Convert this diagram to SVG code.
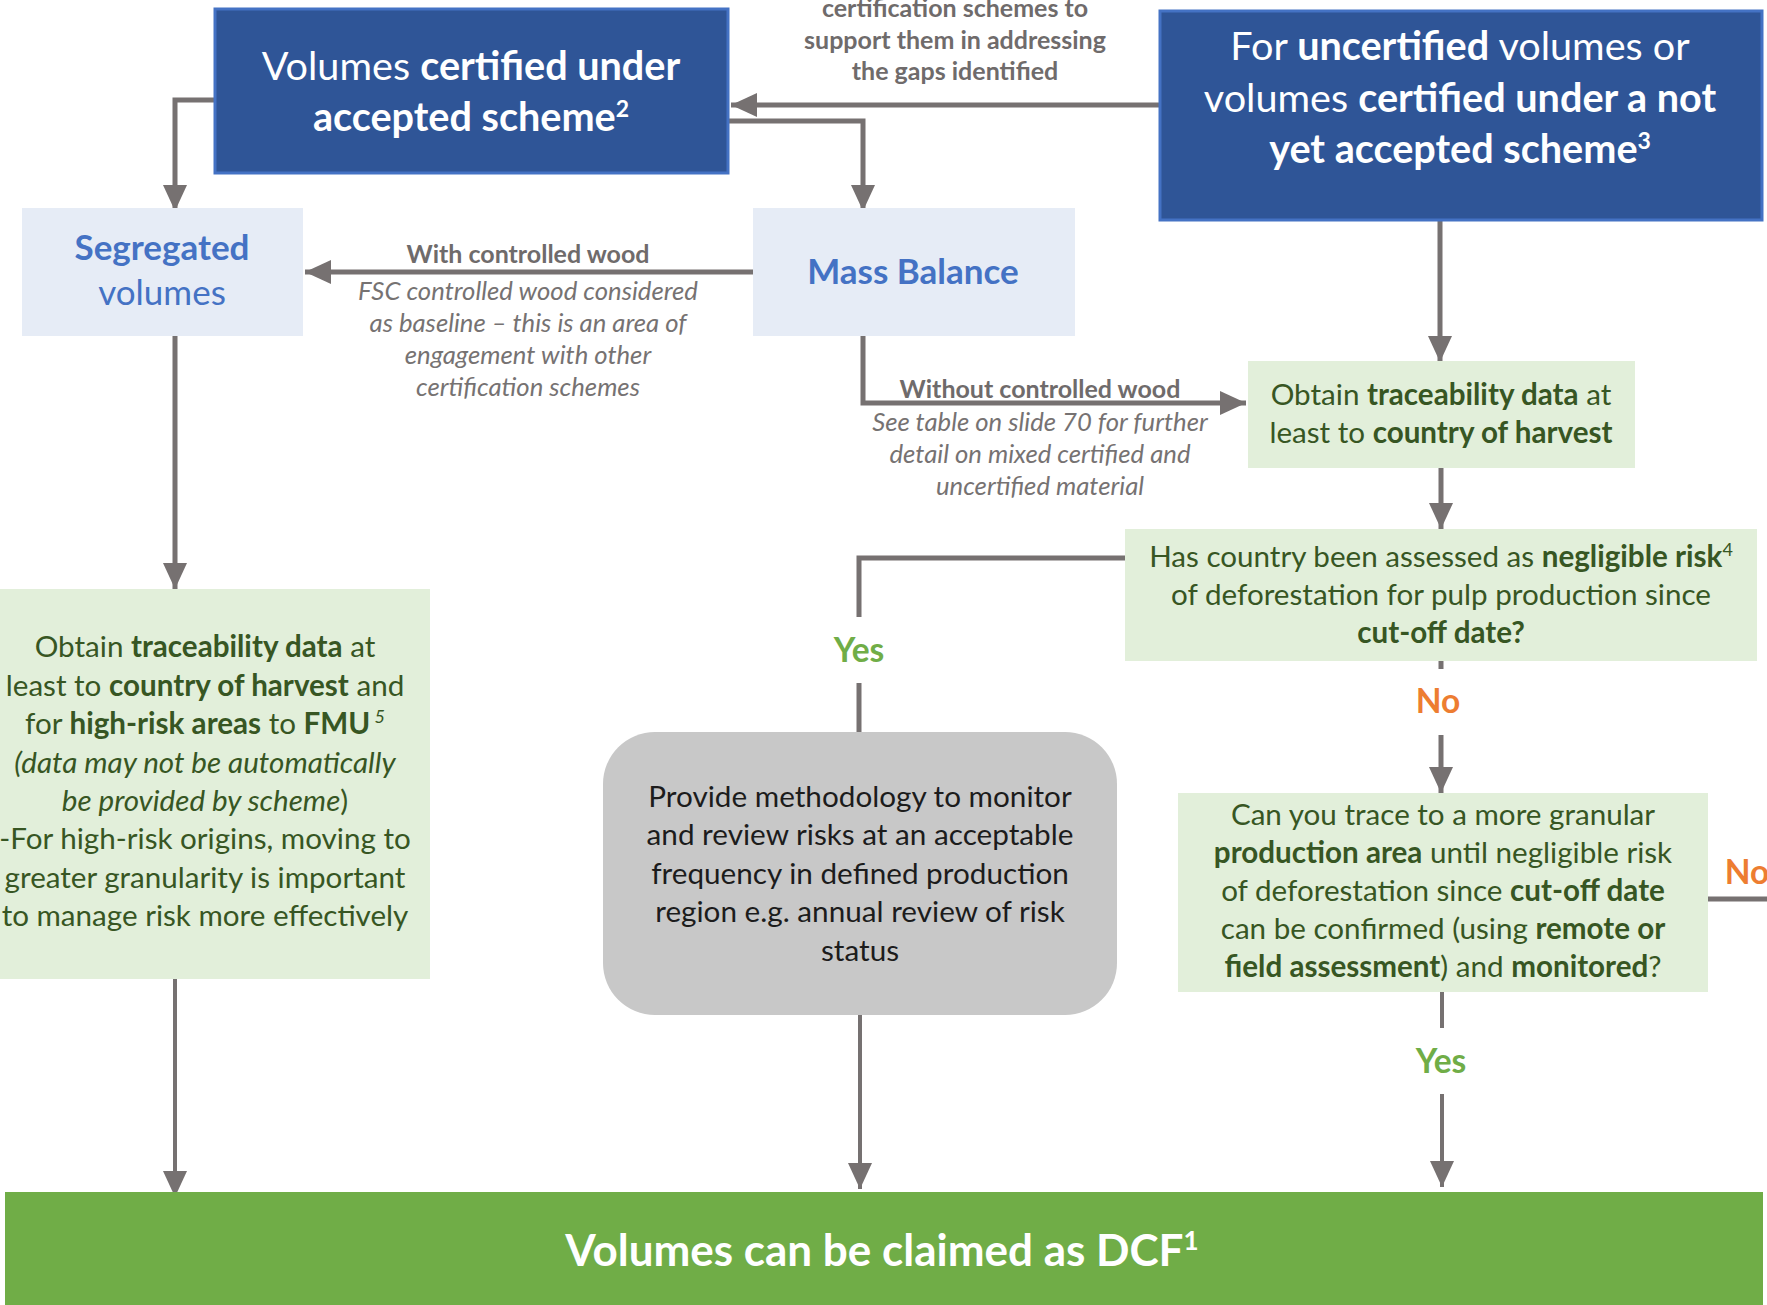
<svg xmlns="http://www.w3.org/2000/svg" width="1767" height="1305" viewBox="0 0 1767 1305">
<style>
text{font-family:Lato,"Noto Sans","Liberation Sans",sans-serif;text-anchor:middle}
.b{font-weight:bold}
.i{font-style:italic}
.wt{fill:#ffffff;font-size:39.6px}
.gt{fill:#375623;font-size:29.6px}
.kt{fill:#1c1c1c;font-size:29.7px}
.bl{fill:#4472C4;font-size:35px}
.lbl{fill:#6f6b6b;font-size:25px;font-weight:bold}
.it{fill:#767272;font-size:25.7px;font-style:italic}
.yes{fill:#70AD47;font-size:33.5px;font-weight:bold}
.no{fill:#ED7D31;font-size:33.5px;font-weight:bold}
.conn path{stroke:#767171;stroke-width:5;fill:none}
.conn path.thin{stroke-width:4}
.dark{fill:#2F5597;stroke:#4472C4;stroke-width:3}
.lb{fill:#E6ECF6}
.lg{fill:#E2EFDA}
</style>
<defs>
<marker id="ah" viewBox="0 0 26 24" refX="26" refY="12" markerWidth="26" markerHeight="24" markerUnits="userSpaceOnUse" orient="auto">
<path d="M0,0 L26,12 L0,24 z" fill="#767171"/>
</marker>
</defs>
<rect width="1767" height="1305" fill="#ffffff"/>

<g id="conn" class="conn">
<path d="M1159,105 H731" marker-end="url(#ah)"/>
<path d="M729,121 H863 V211" marker-end="url(#ah)"/>
<path d="M214,100 H175 V211" marker-end="url(#ah)"/>
<path d="M753,272 H305" marker-end="url(#ah)"/>
<path d="M175,336 V589" marker-end="url(#ah)"/>
<path class="thin" d="M175,979 V1197" marker-end="url(#ah)"/>
<path d="M1440,221 V362" marker-end="url(#ah)"/>
<path d="M863,336 V403 H1246" marker-end="url(#ah)"/>
<path d="M1441,468 V529" marker-end="url(#ah)"/>
<path d="M1125,558 H859 V617"/>
<path d="M859,683 V732"/>
<path class="thin" d="M860,1015 V1189" marker-end="url(#ah)"/>
<path d="M1441,661 V669"/>
<path d="M1441,735 V793" marker-end="url(#ah)"/>
<path d="M1708,899 H1767"/>
<path class="thin" d="M1442,992 V1028"/>
<path class="thin" d="M1442,1094 V1187" marker-end="url(#ah)"/>
</g>

<g id="lbl-top">
<text class="lbl" x="955" y="17">certification schemes to</text>
<text class="lbl" x="955" y="49">support them in addressing</text>
<text class="lbl" x="955" y="80">the gaps identified</text>
</g>

<g id="lbl-with">
<text class="lbl" x="528" y="263">With controlled wood</text>
<text class="it" x="528" y="300">FSC controlled wood considered</text>
<text class="it" x="528" y="332">as baseline – this is an area of</text>
<text class="it" x="528" y="364">engagement with other</text>
<text class="it" x="528" y="396">certification schemes</text>
</g>

<g id="lbl-without">
<text class="lbl" x="1040" y="398">Without controlled wood</text>
<text class="it" x="1040" y="431">See table on slide 70 for further</text>
<text class="it" x="1040" y="463">detail on mixed certified and</text>
<text class="it" x="1040" y="495">uncertified material</text>
</g>

<g id="lbl-yesno">
<text class="yes" x="859" y="662">Yes</text>
<text class="no" x="1438" y="713">No</text>
<text class="no" x="1747" y="884">No</text>
<text class="yes" x="1441" y="1073">Yes</text>
</g>

<g id="n-certified">
<rect class="dark" x="215" y="9" width="513" height="164"/>
<text class="wt" x="471" y="80">Volumes <tspan class="b">certified under</tspan></text>
<text class="wt" x="471" y="131"><tspan class="b">accepted scheme</tspan><tspan class="b" font-size="23" baseline-shift="super">2</tspan></text>
</g>

<g id="n-uncertified">
<rect class="dark" x="1160" y="11" width="602" height="209"/>
<text class="wt" x="1460" y="60">For <tspan class="b">uncertified</tspan> volumes or</text>
<text class="wt" x="1460" y="112">volumes <tspan class="b">certified under a not</tspan></text>
<text class="wt" x="1460" y="163"><tspan class="b">yet accepted scheme</tspan><tspan class="b" font-size="23" baseline-shift="super">3</tspan></text>
</g>

<g id="n-segregated">
<rect class="lb" x="22" y="208" width="281" height="128"/>
<text class="bl b" x="162" y="260">Segregated</text>
<text class="bl" x="162" y="305">volumes</text>
</g>

<g id="n-mass">
<rect class="lb" x="753" y="208" width="322" height="128"/>
<text class="bl b" x="913" y="284">Mass Balance</text>
</g>

<g id="n-trace-right">
<rect class="lg" x="1248" y="361" width="387" height="107"/>
<text class="gt" x="1441" y="405">Obtain <tspan class="b">traceability data</tspan> at</text>
<text class="gt" x="1441" y="443">least to <tspan class="b">country of harvest</tspan></text>
</g>

<g id="n-question">
<rect class="lg" x="1125" y="529" width="632" height="132"/>
<text class="gt" x="1441" y="567">Has country been assessed as <tspan class="b">negligible risk</tspan><tspan font-size="18" baseline-shift="super">4</tspan></text>
<text class="gt" x="1441" y="605">of deforestation for pulp production since</text>
<text class="gt b" x="1441" y="643">cut-off date?</text>
</g>

<g id="n-trace-left">
<rect class="lg" x="0" y="589" width="430" height="390"/>
<text class="gt" x="205" y="657">Obtain <tspan class="b">traceability data</tspan> at</text>
<text class="gt" x="205" y="696">least to <tspan class="b">country of harvest</tspan> and</text>
<text class="gt" x="205" y="734">for <tspan class="b">high-risk areas</tspan> to <tspan class="b">FMU</tspan><tspan class="i" font-size="18" baseline-shift="super"> 5</tspan></text>
<text class="gt i" x="205" y="773">(data may not be automatically</text>
<text class="gt" x="205" y="811"><tspan class="i">be provided by scheme</tspan>)</text>
<text class="gt" x="205" y="849">-For high-risk origins, moving to</text>
<text class="gt" x="205" y="888">greater granularity is important</text>
<text class="gt" x="205" y="926">to manage risk more effectively</text>
</g>

<g id="n-monitor">
<rect x="603" y="732" width="514" height="283" rx="52" ry="52" fill="#C8C8C8"/>
<text class="kt" x="860" y="807">Provide methodology to monitor</text>
<text class="kt" x="860" y="845">and review risks at an acceptable</text>
<text class="kt" x="860" y="884">frequency in defined production</text>
<text class="kt" x="860" y="922">region e.g. annual review of risk</text>
<text class="kt" x="860" y="961">status</text>
</g>

<g id="n-granular">
<rect class="lg" x="1178" y="793" width="530" height="199"/>
<text class="gt" x="1443" y="825">Can you trace to a more granular</text>
<text class="gt" x="1443" y="863"><tspan class="b">production area</tspan> until negligible risk</text>
<text class="gt" x="1443" y="901">of deforestation since <tspan class="b">cut-off date</tspan></text>
<text class="gt" x="1443" y="939">can be confirmed (using <tspan class="b">remote or</tspan></text>
<text class="gt" x="1443" y="977"><tspan class="b">field assessment</tspan>) and <tspan class="b">monitored</tspan>?</text>
</g>

<g id="n-dcf">
<rect x="5" y="1192" width="1758" height="113" fill="#70AD47"/>
<text x="882" y="1266" fill="#ffffff" font-size="44" font-weight="bold">Volumes can be claimed as DCF<tspan font-size="26" baseline-shift="super">1</tspan></text>
</g>
</svg>
